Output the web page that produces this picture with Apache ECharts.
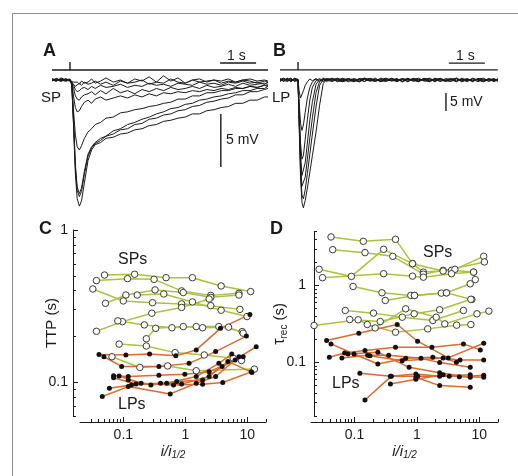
<!DOCTYPE html>
<html>
<head>
<meta charset="utf-8">
<script src="https://cdn.jsdelivr.net/npm/echarts@6/dist/echarts.min.js"></script>
<style>
  html, body { margin: 0; padding: 0; background: #fff; }
  #main { width: 518px; height: 476px; }
</style>
</head>
<body>
<div id="main"></div>
<script>
// ---- Panel A: small-pulse (SP) voltage responses, time in s, response in mV ----
const tA = [0, 0.12, 0.25, 0.38, 0.5, 0.55, 0.6, 0.65, 0.7, 0.76, 0.82, 0.9, 1.0, 1.1, 1.2, 1.35, 1.5, 1.7, 1.9, 2.1,
            2.3, 2.5, 2.7, 2.9, 3.1, 3.3, 3.5, 3.7, 3.9, 4.1, 4.3, 4.5, 4.7, 4.9, 5.1, 5.3, 5.5, 5.7, 5.9, 6.0];
const spTraces = [
  [0.1,-0.1,0.2,0,-0.1,0,-0.2,-0.3,-0.2,-0.4,-0.1,-0.3,-0.2,0.1,-0.3,-0.1,0.2,-0.2,0,-0.3,0.1,-0.1,0.3,-0.2,0.4,-0.1,0.2,-0.3,0,0.1,-0.2,0,-0.1,0.1,-0.2,0,0.1,-0.1,0,-0.1],
  [-0.1,0.1,0,0.1,-0.1,-0.2,-0.4,-0.6,-0.5,-0.3,-0.5,-0.2,-0.4,-0.3,-0.1,-0.4,-0.2,-0.5,-0.1,-0.3,-0.2,0,-0.4,-0.2,-0.3,0.1,-0.2,-0.3,0,-0.2,-0.1,0,-0.3,-0.1,-0.2,0,-0.1,-0.3,-0.1,-0.2],
  [0,0.1,-0.1,0,0.1,0,-0.5,-0.9,-1.1,-1.0,-0.8,-0.7,-0.9,-0.6,-0.8,-0.5,-0.7,-0.6,-0.4,-0.7,-0.5,-0.6,-0.3,-0.5,-0.4,-0.6,-0.3,-0.4,-0.5,-0.2,-0.4,-0.3,-0.5,-0.2,-0.3,-0.1,-0.3,-0.2,-0.4,-0.2],
  [0,-0.1,0.1,0,0,-0.1,-0.8,-1.5,-1.8,-1.9,-1.6,-1.4,-1.3,-1.1,-1.4,-1.0,-1.3,-0.8,-1.2,-1.0,-1.3,-0.9,-1.1,-0.8,-1.0,-0.7,-0.9,-0.8,-0.6,-0.8,-0.5,-0.7,-0.6,-0.4,-0.6,-0.3,-0.5,-0.4,-0.3,-0.4],
  [0.1,0,-0.1,0.1,0,-0.2,-1.6,-2.6,-3.0,-2.9,-2.5,-2.1,-1.9,-2.2,-1.8,-1.6,-1.9,-1.7,-1.5,-1.7,-1.4,-1.6,-1.3,-1.5,-1.2,-1.3,-1.1,-1.2,-1.0,-1.1,-0.9,-1.0,-0.8,-0.9,-0.7,-0.8,-0.6,-0.7,-0.5,-0.6],
  [0,0.1,0,-0.1,0,-0.3,-3.0,-5.2,-6.3,-6.6,-6.2,-5.5,-4.9,-4.6,-4.2,-4.0,-3.6,-3.5,-3.1,-3.0,-2.8,-2.7,-2.5,-2.4,-2.2,-2.1,-1.8,-1.8,-1.5,-1.5,-1.2,-1.2,-1.0,-1.0,-0.8,-0.8,-0.6,-0.7,-0.5,-0.5],
  [0,-0.1,0.1,0,0,-0.4,-4.0,-8.0,-10.1,-10.7,-10.2,-8.6,-7.0,-6.3,-5.9,-5.5,-5.3,-4.8,-4.6,-4.2,-4.0,-3.7,-3.5,-3.2,-3.0,-2.7,-2.6,-2.3,-2.2,-1.9,-1.8,-1.6,-1.5,-1.3,-1.2,-1.0,-1.0,-0.8,-0.8,-0.6],
  [0.1,0,-0.1,0.1,0,-0.4,-4.2,-8.3,-10.4,-11.0,-10.5,-8.9,-7.2,-6.4,-6.0,-5.7,-5.3,-5.1,-4.7,-4.6,-4.2,-4.1,-3.7,-3.6,-3.3,-3.2,-2.9,-2.8,-2.5,-2.4,-2.1,-2.0,-1.8,-1.7,-1.4,-1.4,-1.1,-1.1,-0.9,-0.8],
  [0,0.1,0,-0.1,0,-0.5,-4.5,-8.9,-11.2,-11.9,-11.4,-9.7,-7.6,-6.6,-6.1,-5.9,-5.5,-5.4,-5.1,-5.0,-4.7,-4.6,-4.3,-4.2,-3.9,-3.8,-3.6,-3.5,-3.2,-3.2,-2.9,-2.8,-2.6,-2.5,-2.2,-2.2,-1.9,-1.9,-1.6,-1.6]
];

// ---- Panel B: large-pulse (LP) voltage responses ----
const tB = [0, 0.1, 0.2, 0.3, 0.4, 0.5, 0.53, 0.57, 0.61, 0.65, 0.7, 0.76, 0.83, 0.9, 1.0, 1.1, 1.2, 1.3,
            1.45, 1.6, 1.75, 1.9, 2.05, 2.2, 2.35, 2.5, 2.65, 2.8, 2.95, 3.1, 3.25, 3.4, 3.55, 3.7, 3.85, 4.0,
            4.15, 4.3, 4.45, 4.6, 4.75, 4.9, 5.05, 5.2, 5.35, 5.5, 5.65, 5.8, 5.95, 6.05];
const lpTraces = [
  [0.3,-0.4,0.5,-0.2,0.4,0, -3,-5,-4.5,-3,-1.5,-0.5,0.3,-0.2,0.4,-0.3,0.2,-0.4, 0.5,-0.3,0.2,-0.5,0.4,0,-0.4,0.3,-0.2,0.5,-0.3,0.1,-0.5,0.4,-0.1,0.3,-0.4,0.2,0.5,-0.2,0.1,-0.4,0.3,-0.3,0.5,-0.1,0.2,-0.5,0.3,0,-0.3,0.4],
  [-0.3,0.4,-0.1,0.5,-0.4,0.2, -6,-12,-14,-12.5,-9,-5,-2,-0.5,0.3,-0.4,0.5,-0.1, -0.4,0.3,-0.2,0.4,-0.5,0.2,0.5,-0.3,0.1,-0.4,0.4,-0.2,0.3,-0.5,0.2,0,-0.3,0.5,-0.2,0.3,-0.4,0.1,0.4,-0.3,0.2,-0.5,0.5,-0.1,-0.3,0.4,-0.2,0.1],
  [0.1,-0.3,0.4,-0.5,0.2,-0.1, -8,-17.5,-22,-21,-16.5,-11,-5.5,-2,-0.2,0.4,-0.3,0.2, 0.4,-0.2,-0.5,0.3,0.1,-0.3,0.4,-0.1,-0.4,0.2,0.5,-0.3,0,0.4,-0.5,0.3,0.2,-0.2,-0.4,0.5,0,-0.3,0.2,0.4,-0.5,0.1,-0.2,0.3,0.5,-0.4,0.2,-0.1],
  [-0.4,0.2,0.1,-0.3,0.5,0.2, -9,-20.5,-26.5,-26.5,-23,-17.5,-11,-6,-1.2,0.2,-0.4,0.3, -0.1,0.5,-0.4,0,0.3,-0.5,0.2,0.4,-0.3,0.1,-0.2,0.5,-0.4,0.2,0.3,-0.1,-0.5,0.4,0.1,-0.3,0.5,-0.2,-0.4,0.3,0,0.4,-0.3,0.2,-0.5,0.1,0.4,-0.2],
  [0.2,0.5,-0.4,0.1,-0.2,-0.3, -10,-23,-29.5,-30,-27,-22,-16,-10.5,-3.5,-0.4,0.3,-0.2, 0.3,-0.5,0.1,0.4,-0.2,0.3,-0.4,0.5,0,-0.3,0.2,-0.1,0.4,-0.5,0.3,0.1,0.5,-0.3,-0.1,0.2,-0.4,0.4,0.1,-0.5,0.3,-0.2,0.4,0,-0.4,0.3,-0.1,0.2],
  [-0.2,0.3,0.2,0.4,-0.3,0.1, -11,-25,-32,-33,-30.5,-26,-20.5,-15,-7.5,-1.5,0.2,0.4, -0.3,0.1,0.5,-0.2,-0.4,0.4,0.1,-0.3,0.5,-0.5,0.2,0.3,-0.2,0.1,-0.4,0.5,-0.2,0.3,-0.5,0.2,0.4,-0.1,-0.3,0.5,-0.2,0.3,-0.5,0.4,0.1,-0.3,0.2,-0.4],
  [0.4,-0.2,-0.3,0.2,0.1,-0.2, -12,-27,-34,-35.5,-33.5,-30,-25.5,-21,-14.5,-7,-1,0.3, 0.2,0.4,-0.3,0.3,-0.1,-0.5,0.5,0,0.3,-0.2,-0.4,0.4,0.1,-0.3,0.5,-0.4,0.2,0,0.4,-0.5,0.3,-0.2,0.1,0.5,-0.4,0.2,-0.3,0.4,-0.1,0.3,-0.5,0.2]
];

// stimulus onset and record length (s); scale-bar anchors (time s, level mV)
const stimOnset = 0.5;
const recordEndA = 6.0, recordEndB = 6.05;
const stimLevelA = 0.95, stimTopA = 1.7;
const stimLevelB = 2.8, stimTopB = 5.0;
const timeBarA = { t: 4.67, v: 1.6 }, voltBarA = { t: 4.69, v: -3.2 };
const timeBarB = { t: 4.69, v: 4.7 }, voltBarB = { t: 4.61, v: -3.6 };
const timeBarLen = 1, voltBarLen = 5;

// ---- Panel C: time to peak (s) vs i/i1/2 ----
const ttpSP = [
  [[0.0497,0.506],[0.152,0.512],[0.489,0.486],[1.30,0.486],[3.78,0.429],[11.3,0.394]],
  [[0.0368,0.465],[0.117,0.479],[0.313,0.474],[0.871,0.398],[2.57,0.372],[7.32,0.384]],
  [[0.0515,0.330],[0.110,0.374],[0.325,0.404],[0.925,0.388],[2.57,0.361],[7.32,0.374]],
  [[0.0322,0.410],[0.0999,0.342],[0.295,0.333],[0.871,0.327],[2.57,0.3185],[7.59,0.301]],
  [[0.1675,0.374],[0.449,0.380],[1.30,0.337],[3.78,0.297],[9.89,0.270]],
  [[0.0368,0.216],[0.0964,0.250],[0.288,0.284],[0.87,0.31],[2.42,0.352]],
  [[0.0814,0.253],[0.218,0.238],[0.607,0.228],[1.50,0.232],[3.47,0.232],[8.26,0.215]],
  [[0.235,0.193],[0.3325,0.226],[0.925,0.232],[1.90,0.228],[4.98,0.230],[8.56,0.21]],
  [[0.0855,0.178],[0.235,0.173],[0.684,0.1565],[2.02,0.151],[5.90,0.144],[8.06,0.139]],
  [[0.0656,0.147],[0.1845,0.125],[0.519,0.128],[1.50,0.119],[13.0,0.122]]
];
const ttpLP = [
  [[0.0405,0.152],[0.110,0.151],[0.265,0.153],[0.701,0.149],[1.50,0.163],[3.69,0.226],[11.0,0.279]],
  [[0.0486,0.147],[0.094,0.127],[0.375,0.127],[1.148,0.133],[3.08,0.159],[9.66,0.201]],
  [[0.0696,0.1105],[0.120,0.109],[0.375,0.111],[0.982,0.113],[2.42,0.117],[6.34,0.140],[13.9,0.171]],
  [[0.0457,0.0805],[0.120,0.0936],[0.571,0.0838],[1.50,0.0985],[3.08,0.109],[7.32,0.147]],
  [[0.0596,0.0913],[0.135,0.096],[0.398,0.0985],[0.871,0.0975],[2.42,0.109],[4.86,0.137],[11.85,0.116]],
  [[0.0855,0.110],[0.1935,0.0985],[0.645,0.096],[1.90,0.097],[4.01,0.0995],[11.57,0.117]],
  [[0.120,0.1036],[0.278,0.096],[0.727,0.101],[1.90,0.1036],[3.92,0.1267],[8.56,0.147]],
  [[0.0696,0.107],[0.16,0.0975],[0.50,0.0985],[1.50,0.109],[3.47,0.133],[5.6,0.153]]
];

// ---- Panel D: recovery time constant (s) vs i/i1/2 ----
const recSP = [
  [[0.0419,4.27],[0.138,3.75],[0.454,3.98],[0.85,1.92],[1.27,1.49],[3.59,1.57],[8.12,1.49]],
  [[0.0446,2.92],[0.147,2.67],[0.41,2.39],[1.27,1.4],[2.63,1.57],[4.07,1.62],[11.8,2.39]],
  [[0.027,1.62],[0.0889,1.31],[0.2925,2.95],[0.85,1.92],[2.63,1.54],[12.1,2.02]],
  [[0.0306,1.26],[0.2925,1.42],[0.85,1.32],[1.27,1.28],[3.59,1.42],[8.12,1.49]],
  [[0.0946,0.97],[0.275,0.802],[0.798,0.741],[0.916,0.741],[2.47,0.794],[2.98,0.802],[7.17,1.05],[8.65,1.19]],
  [[0.311,0.637],[0.916,0.741],[2.98,0.80],[7.62,0.657]],
  [[0.0709,0.472],[0.201,0.436],[0.583,0.386],[1.80,0.35],[5.58,0.472]],
  [[0.0835,0.36],[0.258,0.339],[0.904,0.427],[2.32,0.482],[7.35,0.66]],
  [[0.0224,0.301],[0.114,0.357],[0.214,0.28],[0.661,0.496],[2.04,0.386],[2.80,0.316],[9.2,0.427],[14.3,0.463]],
  [[0.16,0.31],[0.454,0.246],[1.49,0.272],[4.34,0.304],[7.35,0.31]]
];
const recLP = [
  [[0.0356,0.192],[0.117,0.239],[0.483,0.31],[1.025,0.188],[3.17,0.114],[11.8,0.177]],
  [[0.0393,0.116],[0.0692,0.132],[0.147,0.142],[0.454,0.157],[1.74,0.157],[5.58,0.1735],[10.4,0.145]],
  [[0.0419,0.1735],[0.098,0.128],[0.2365,0.095],[0.661,0.113],[1.80,0.116],[4.92,0.107],[11.8,0.107]],
  [[0.0626,0.114],[0.162,0.123],[0.353,0.123],[1.163,0.113],[2.32,0.099],[7.17,0.086]],
  [[0.1216,0.072],[0.376,0.0657],[0.963,0.0704],[2.32,0.066],[7.17,0.069]],
  [[0.147,0.0323],[0.39,0.066],[1.03,0.066],[3.3,0.066],[11.8,0.064]],
  [[0.376,0.0522],[0.963,0.060],[2.63,0.069],[4.8,0.065],[11.8,0.0677]],
  [[0.0784,0.128],[0.2365,0.135],[0.75,0.086],[2.32,0.0733],[7.17,0.0637]],
  [[0.963,0.0637],[2.32,0.0497],[7.17,0.0472]],
  [[0.177,0.122],[0.58,0.105],[2.63,0.114],[4.3,0.1]]
];

// axis ticks and labels
const xMajor = [0.1, 1, 10];
const xMinor = [0.03,0.04,0.05,0.06,0.07,0.08,0.09,0.2,0.3,0.4,0.5,0.6,0.7,0.8,0.9,2,3,4,5,6,7,8,9,20];
const yMajorC = [0.1, 1];
const yMinorC = [0.06,0.07,0.08,0.09,0.2,0.3,0.4,0.5,0.6,0.7,0.8,0.9];
const yMajorD = [0.1, 1];
const yMinorD = [0.02,0.03,0.04,0.05,0.06,0.07,0.08,0.09,0.2,0.3,0.4,0.5,0.6,0.7,0.8,0.9,2,3,4,5];

const FONT = 'Liberation Sans, Arial, Helvetica, sans-serif';
const INK = '#1a1a1a';
const GREEN = '#a9c43c';
const ORANGE = '#de6a2c';

const chart = echarts.init(document.getElementById('main'));

function traceSeries(t, traces, axis) {
  return traces.map(v => ({
    type: 'line', xAxisIndex: axis, yAxisIndex: axis, showSymbol: false, silent: true,
    lineStyle: { color: INK, width: 1 }, data: t.map((x, i) => [x, v[i]]), animation: false
  }));
}
function pathSeries(points, axis) {
  return {
    type: 'line', xAxisIndex: axis, yAxisIndex: axis, showSymbol: false, silent: true, clip: false,
    lineStyle: { color: INK, width: 1.4 }, data: points, animation: false
  };
}
function groupSeries(groups, axis, open) {
  return groups.map(g => ({
    type: 'line', xAxisIndex: axis, yAxisIndex: axis, data: g, silent: true, animation: false,
    symbol: 'circle', symbolSize: open ? 6.5 : 5,
    lineStyle: { color: open ? GREEN : ORANGE, width: 1.5 },
    itemStyle: open ? { color: '#fff', borderColor: '#3a3a3a', borderWidth: 1 } : { color: '#111' }
  }));
}
const fmt = v => String(+(+v).toPrecision(3));

function logX(grid, min, max, major) {
  const base = {
    gridIndex: grid, type: 'log', min: min, max: max, position: 'bottom', offset: 6,
    splitLine: { show: false }
  };
  return [
    Object.assign({}, base, {
      axisLine: { lineStyle: { color: INK, width: 1 } },
      axisTick: { inside: true, length: 5, customValues: major, lineStyle: { color: INK } },
      axisLabel: { customValues: major, formatter: fmt, color: INK, fontSize: 14, fontFamily: FONT, margin: 6 },
      name: '{a|i/i}{b|1/2}', nameLocation: 'middle', nameGap: 21, nameMoveOverlap: false,
      nameTextStyle: { color: INK, fontFamily: FONT, rich: {
        a: { fontSize: 15, fontStyle: 'italic', fontFamily: FONT, color: INK },
        b: { fontSize: 10, fontStyle: 'italic', fontFamily: FONT, color: INK, padding: [7, 0, 0, 0] } } }
    }),
    Object.assign({}, base, {
      axisLine: { show: false },
      axisTick: { inside: true, length: 3, customValues: xMinor, lineStyle: { color: INK } },
      axisLabel: { show: false }
    })
  ];
}
function logY(grid, min, max, major, minor, offset, name, gap, margin) {
  const base = {
    gridIndex: grid, type: 'log', min: min, max: max, position: 'left', offset: offset,
    splitLine: { show: false }
  };
  return [
    Object.assign({}, base, {
      axisLine: { lineStyle: { color: INK, width: 1 } },
      axisTick: { inside: true, length: 5, customValues: major, lineStyle: { color: INK } },
      axisLabel: { customValues: major, formatter: fmt, color: INK, fontSize: 14, fontFamily: FONT, margin: margin },
      name: name, nameLocation: 'middle', nameGap: gap, nameMoveOverlap: false,
      nameTextStyle: { color: INK, fontFamily: FONT, fontSize: 15, rich: {
        a: { fontSize: 16, fontFamily: FONT, color: INK },
        b: { fontSize: 10, fontFamily: FONT, color: INK, padding: [8, 0, 0, 0] },
        c: { fontSize: 15, fontFamily: FONT, color: INK } } }
    }),
    Object.assign({}, base, {
      axisLine: { show: false },
      axisTick: { inside: true, length: 3, customValues: minor, lineStyle: { color: INK } },
      axisLabel: { show: false }
    })
  ];
}

const txt = (x, y, s, size, bold) => ({
  type: 'text', x: x, y: y, silent: true,
  style: { text: s, fill: INK, font: `${bold ? 'bold ' : ''}${size}px ${FONT}`, textVerticalAlign: 'middle' }
});

const option = {
  backgroundColor: '#fff',
  animation: false,
  grid: [
    { left: 52, top: 58.8, width: 216, height: 159 },
    { left: 280, top: 58.4, width: 217.8, height: 158.4 },
    { left: 80, top: 230, width: 186, height: 186 },
    { left: 311, top: 231.7, width: 187, height: 184.3 }
  ],
  xAxis: [
    { gridIndex: 0, type: 'value', min: 0, max: recordEndA, show: false },
    { gridIndex: 1, type: 'value', min: 0, max: recordEndB, show: false },
    ...logX(2, 0.02, 20, xMajor),
    ...logX(3, 0.02, 20, xMajor)
  ],
  yAxis: [
    { gridIndex: 0, type: 'value', min: -13, max: 2, show: false },
    { gridIndex: 1, type: 'value', min: -38, max: 6, show: false },
    ...logY(2, 0.06, 1, yMajorC, yMinorC, 7, 'TTP (s)', 14, 5),
    ...logY(3, 0.02, 5, yMajorD, yMinorD, -3, '{a|τ}{b|rec}{c| (s)}', 25, 8)
  ],
  series: [
    ...traceSeries(tA, spTraces, 0),
    ...traceSeries(tB, lpTraces, 1),
    pathSeries([[0, stimLevelA], [stimOnset, stimLevelA], [stimOnset, stimTopA], [stimOnset, stimLevelA], [recordEndA, stimLevelA]], 0),
    pathSeries([[0, stimLevelB], [stimOnset, stimLevelB], [stimOnset, stimTopB], [stimOnset, stimLevelB], [recordEndB, stimLevelB]], 1),
    pathSeries([[timeBarA.t, timeBarA.v], [timeBarA.t + timeBarLen, timeBarA.v]], 0),
    pathSeries([[voltBarA.t, voltBarA.v], [voltBarA.t, voltBarA.v - voltBarLen]], 0),
    pathSeries([[timeBarB.t, timeBarB.v], [timeBarB.t + timeBarLen, timeBarB.v]], 1),
    pathSeries([[voltBarB.t, voltBarB.v], [voltBarB.t, voltBarB.v - voltBarLen]], 1),
    ...groupSeries(ttpSP, 2, true),
    ...groupSeries(ttpLP, 2, false),
    ...groupSeries(recSP, 4, true),
    ...groupSeries(recLP, 4, false)
  ],
  graphic: [
    { type: 'rect', silent: true, shape: { x: 12.5, y: 13.5, width: 700, height: 700 },
      style: { fill: 'none', stroke: '#8f8f8f', lineWidth: 1 } },
    txt(43, 51, 'A', 18, true),
    txt(273, 51, 'B', 18, true),
    txt(39, 229, 'C', 18, true),
    txt(270, 229, 'D', 18, true),
    txt(41, 98, 'SP', 15),
    txt(272, 98, 'LP', 15),
    txt(227, 56, '1 s', 14),
    txt(456, 56, '1 s', 14),
    txt(226, 140, '5 mV', 14),
    txt(450, 102, '5 mV', 14),
    txt(118, 260, 'SPs', 16),
    txt(118, 405, 'LPs', 16),
    txt(423, 253, 'SPs', 16),
    txt(332, 384, 'LPs', 16)
  ]
};
chart.setOption(option);
</script>
</body>
</html>
